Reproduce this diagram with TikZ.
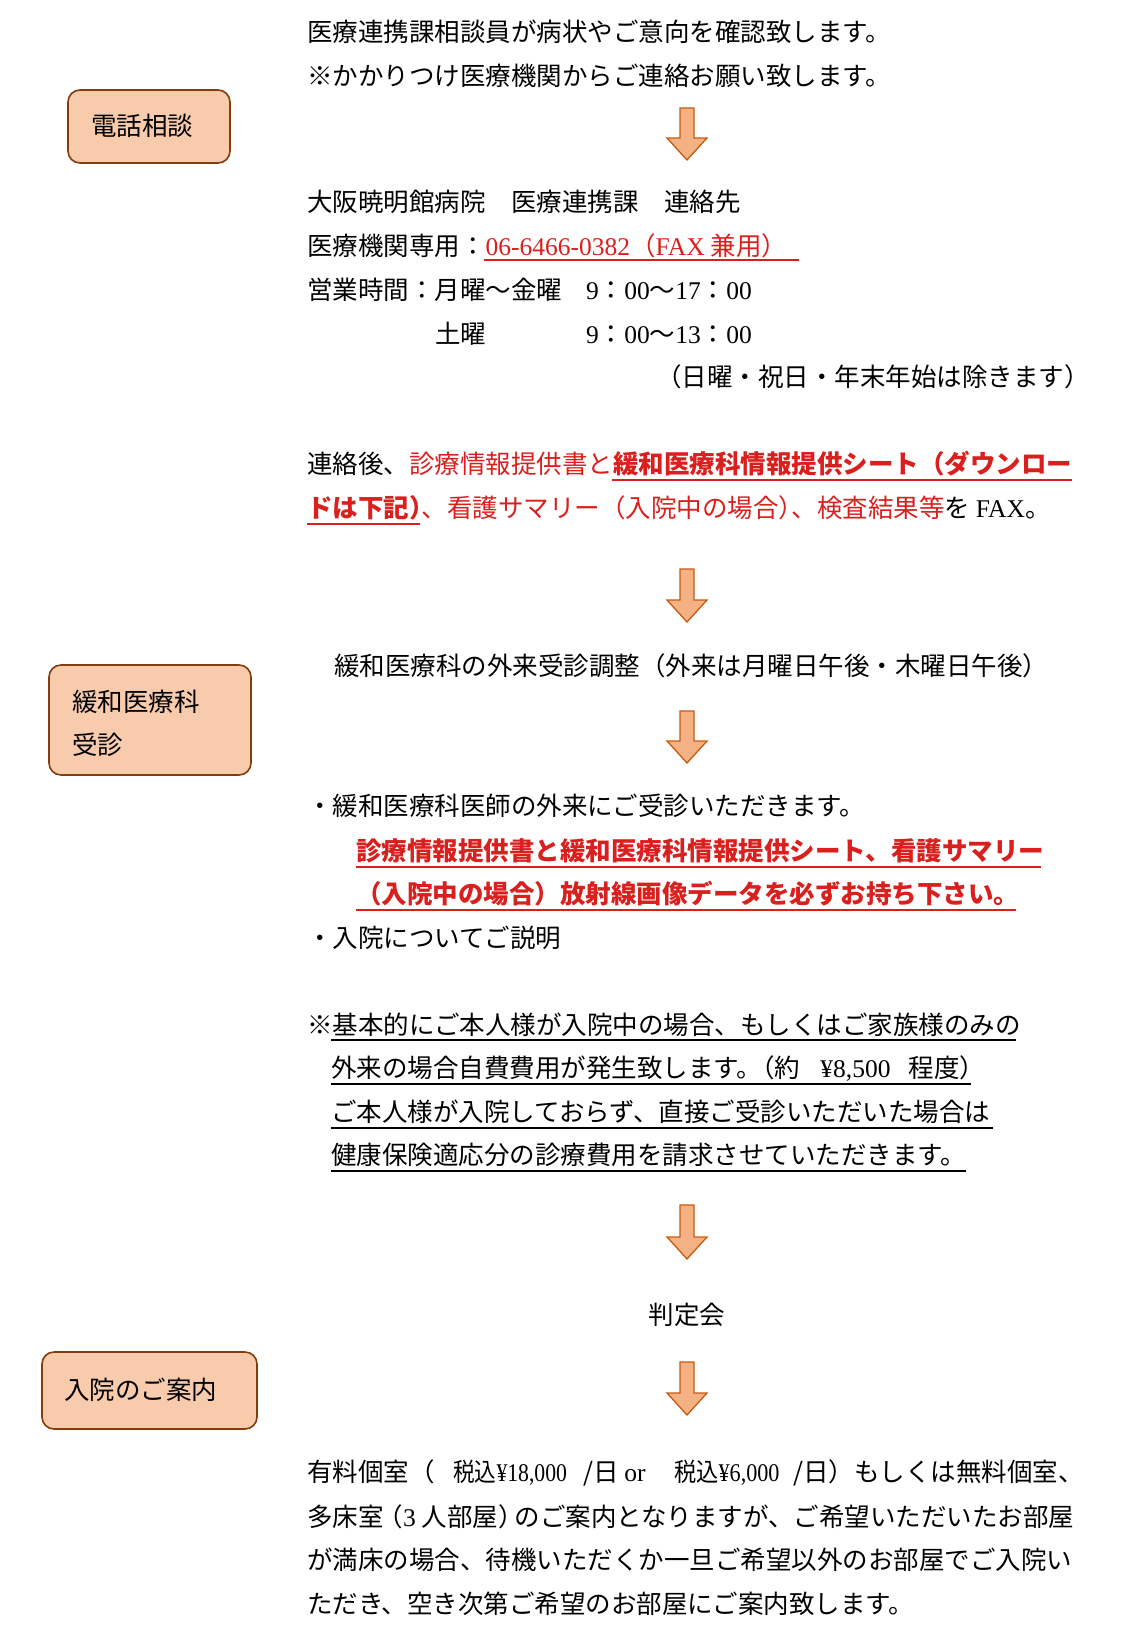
\documentclass[tikz,border=0pt]{standalone}
\usepackage{fontspec}
\usepackage{graphicx}
\setmainfont{Noto Sans CJK JP}
\newfontfamily\latn{Liberation Serif}
\definecolor{boxfill}{RGB}{248,203,173}
\definecolor{boxline}{RGB}{132,60,12}
\definecolor{arrfill}{RGB}{244,177,131}
\definecolor{arrline}{RGB}{197,90,17}
\definecolor{redtxt}{RGB}{218,32,30}
\tikzset{
  txt/.style={anchor=base west, inner sep=0pt, font=\fontsize{25.5}{30}\selectfont},
  txtc/.style={anchor=base, inner sep=0pt, font=\fontsize{25.5}{30}\selectfont},
  stagebox/.style={draw=boxline, fill=boxfill, line width=1.6pt, rounded corners=12pt},
  flowarr/.style={draw=arrline, fill=arrfill, line width=1.3pt, line join=miter},
  redline/.style={draw=redtxt, line width=2pt},
  blackline/.style={draw=black, line width=1.6pt},
}
\newcommand\flowarrow[3]{%
  \draw[flowarr] (#1-7,#2) -- (#1+7,#2) -- (#1+7,#3-22) -- (#1+20,#3-22) -- (#1,#3)
     -- (#1-20,#3-22) -- (#1-7,#3-22) -- cycle;}
\newcommand\hk{\hspace{-12.75pt}}
\begin{document}
\begin{tikzpicture}[x=1pt,y=-1pt]
\useasboundingbox[fill=white] (0,0) rectangle (1125,1625);

% stage boxes
\draw[stagebox] (68,90) rectangle (230,163);
\node[txt] (s1) at (91,135) {電話相談};
\draw[stagebox] (49,665) rectangle (251,775);
\node[txt] (s2a) at (72,711) {緩和医療科};
\node[txt] (s2b) at (72,754) {受診};
\draw[stagebox] (42,1352) rectangle (257,1429);
\node[txt] (s3) at (64,1399) {入院のご案内};

% block 1
\node[txt] (t1) at (307,41) {医療連携課相談員が病状やご意向を確認致します。};
\node[txt] (t2) at (307,85) {※かかりつけ医療機関からご連絡お願い致します。};
\flowarrow{687}{108}{160}

\node[txt] (t3) at (307,211) {大阪暁明館病院　医療連携課　連絡先};
\node[txt] (t4) at (307,255) {医療機関専用：\textcolor{redtxt}{{\latn 06-6466-0382}（{\latn FAX} 兼用）}};
\draw[redline] (484,260) -- (799,260);
\node[txt] (t5) at (307,299) {営業時間：月曜～金曜};
\node[txt] (t5b) at (586,299) {{\latn 9}：{\latn 00}～{\latn 17}：{\latn 00}};
\node[txt] (t6) at (435,343) {土曜};
\node[txt] (t6b) at (586,343) {{\latn 9}：{\latn 00}～{\latn 13}：{\latn 00}};
\node[txt] (t7) at (656,386) {（日曜・祝日・年末年始は除きます）};

\node[txt] (t8) at (307,473) {連絡後、\textcolor{redtxt}{診療情報提供書と\bfseries 緩和医療科情報提供シート（ダウンロー}};
\draw[redline] (612,480) -- (1072,480);
\node[txt] (t9) at (307,517) {\textcolor{redtxt}{{\bfseries ドは下記）}\hk、看護サマリー（入院中の場合）\hk、検査結果等}を {\latn FAX}。};
\draw[redline] (307,524) -- (420,524);
\flowarrow{687}{569}{622}

% block 2
\node[txt] (t10) at (334,675) {緩和医療科の外来受診調整（外来は月曜日午後・木曜日午後）};
\flowarrow{687}{711}{763}
\node[txt] (t11) at (307,815) {・緩和医療科医師の外来にご受診いただきます。};
\node[txt] (t12) at (356,860) {\color{redtxt}\bfseries 診療情報提供書と緩和医療科情報提供シート、看護サマリー};
\draw[redline] (356,867) -- (1041,867);
\node[txt] (t13) at (356,903) {\color{redtxt}\bfseries （入院中の場合）放射線画像データを必ずお持ち下さい。};
\draw[redline] (356,910) -- (1016,910);
\node[txt] (t14) at (307,947) {・入院についてご説明};

\node[txt] (t15) at (307,1034) {※基本的にご本人様が入院中の場合、もしくはご家族様のみの};
\draw[blackline] (331,1040) -- (1016,1040);
\node[txt] (t16) at (331,1077) {外来の場合自費費用が発生致します。\hk（約\hspace{20pt}{\latn ¥8,500}\hspace{18pt}程度）};
\draw[blackline] (331,1084) -- (971,1084);
\node[txt] (t17) at (331,1121) {ご本人様が入院しておらず、直接ご受診いただいた場合は};
\draw[blackline] (331,1128) -- (993,1128);
\node[txt] (t18) at (331,1164) {健康保険適応分の診療費用を請求させていただきます。};
\draw[blackline] (331,1171) -- (966,1171);
\flowarrow{687}{1205}{1259}

% block 3
\node[txtc] (t19) at (687,1324) {判定会};
\flowarrow{687}{1362}{1415}
\node[txt] (t20a) at (307,1481) {有料個室（};
\node[txt] (t20b) at (453,1481) {\scalebox{0.85}[1]{税込{\latn ¥18,000}}};
\node[txt] (t20c) at (583,1481) {/日 {\latn or}};
\node[txt] (t20d) at (674,1481) {\scalebox{0.87}[1]{税込{\latn ¥6,000}}};
\node[txt, anchor=base east] (t20e) at (1084,1481) {/日）もしくは無料個室、};
\node[txt] (t21) at (307,1526) {多床室\hspace{-6pt}（{\latn 3} 人部屋）\hspace{-9pt}のご案内となりますが、ご希望いただいたお部屋};
\node[txt] (t22) at (307,1569) {が満床の場合、待機いただくか一旦ご希望以外のお部屋でご入院い};
\node[txt] (t23) at (307,1613) {ただき、空き次第ご希望のお部屋にご案内致します。};
\end{tikzpicture}
\end{document}
